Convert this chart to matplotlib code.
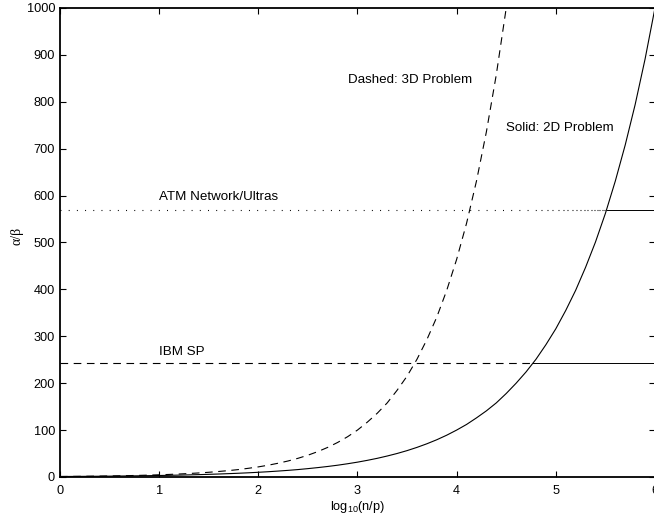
import numpy as np
import matplotlib
matplotlib.use("Agg")
import matplotlib.pyplot as plt
from matplotlib.collections import LineCollection

plt.rcParams["font.family"] = ["Liberation Sans", "DejaVu Sans"]
plt.rcParams["mathtext.fontset"] = "custom"
plt.rcParams["mathtext.rm"] = "Liberation Sans"
plt.rcParams["mathtext.it"] = "Liberation Sans:italic"
plt.rcParams["lines.scale_dashes"] = False

# log10(n/p) samples
x_2d = [round(0.1 * i, 1) for i in range(61)]
alpha_beta_2d = [1.00, 1.12, 1.26, 1.41, 1.58, 1.78, 2.00, 2.24, 2.51, 2.82,
                 3.16, 3.55, 3.98, 4.47, 5.01, 5.62, 6.31, 7.08, 7.94, 8.91,
                 10.0, 11.2, 12.6, 14.1, 15.8, 17.8, 20.0, 22.4, 25.1, 28.2,
                 31.6, 35.5, 39.8, 44.7, 50.1, 56.2, 63.1, 70.8, 79.4, 89.1,
                 100, 112, 126, 141, 158, 178, 200, 224, 251, 282,
                 316, 355, 398, 447, 501, 562, 631, 708, 794, 891, 1000]

x_3d = [round(0.1 * i, 1) for i in range(46)]
alpha_beta_3d = [1.00, 1.17, 1.36, 1.58, 1.85, 2.15, 2.51, 2.93, 3.41, 3.98,
                 4.64, 5.41, 6.31, 7.36, 8.58, 10.0, 11.7, 13.6, 15.8, 18.5,
                 21.5, 25.1, 29.3, 34.1, 39.8, 46.4, 54.1, 63.1, 73.6, 85.8,
                 100, 117, 136, 158, 185, 215, 251, 293, 341, 398,
                 464, 541, 631, 736, 858, 1000]

# machine alpha/beta levels
machines = ["IBM SP", "ATM Network/Ultras"]
machine_levels = [242, 570]

x_ticks = [0, 1, 2, 3, 4, 5, 6]
y_ticks = [0, 100, 200, 300, 400, 500, 600, 700, 800, 900, 1000]

fig = plt.figure(figsize=(6.54, 5.18), dpi=100)
ax = fig.add_axes([0.0917, 0.0792, 0.9098, 0.9054])

lw = 0.8
dash = (0, (5.5, 4.0))
dot = (0, (0.7, 5.2))

ax.plot(x_2d, alpha_beta_2d, color="black", lw=lw)
ax.plot(x_3d, alpha_beta_3d, color="black", lw=lw, linestyle=dash)

# IBM SP: dashed up to the 2D curve, solid afterwards
ibm = machine_levels[0]
x_cross_ibm = float(np.interp(ibm, alpha_beta_2d, x_2d))
ax.plot([0, x_cross_ibm], [ibm, ibm], color="black", lw=lw, linestyle=dash)
ax.plot([x_cross_ibm, 6], [ibm, ibm], color="black", lw=0.7)

# ATM: dotted, dots crowding together toward the 2D curve, then solid
atm = machine_levels[1]
x_cross_atm = float(np.interp(atm, alpha_beta_2d, x_2d))
ax.plot([0, 4.85], [atm, atm], color="black", lw=lw, linestyle=dot)
steps = np.geomspace(0.06, 0.006, 40)
edges = 4.85 + np.concatenate([[0], np.cumsum(steps)])
edges = edges[edges <= x_cross_atm]
edges = np.append(edges, x_cross_atm)
segs = [[(a, atm), (b, atm)] for a, b in zip(edges[:-1], edges[1:])]
lc = LineCollection(segs, colors="black", linewidths=lw, linestyles=[dot])
ax.add_collection(lc)
ax.plot([x_cross_atm, 6], [atm, atm], color="black", lw=0.7)

fs_text = 9.6
ax.text(2.90, 846, "Dashed: 3D Problem", fontsize=fs_text, va="center", ha="left")
ax.text(4.50, 745, "Solid: 2D Problem", fontsize=fs_text, va="center", ha="left")
ax.text(1.0, 597, machines[1], fontsize=fs_text, va="center", ha="left")
ax.text(1.0, 266, machines[0], fontsize=fs_text, va="center", ha="left")

ax.set_xlim(0, 6)
ax.set_ylim(0, 1000)
ax.set_xticks(x_ticks)
ax.set_yticks(y_ticks)
fs_tick = 9.2
ax.tick_params(direction="in", length=4, width=0.8, top=True, right=True,
               labelsize=fs_tick)
ax.tick_params(axis="x", pad=6)
ax.tick_params(axis="y", pad=3.5)
for s in ax.spines.values():
    s.set_linewidth(1.3)

ax.set_xlabel("log$_{10}$(n/p)", fontsize=fs_tick, va="center")
ax.xaxis.set_label_coords(0.5, -0.064)
ax.set_ylabel("α/β", fontsize=fs_tick + 0.8,
              family=["Liberation Serif", "DejaVu Serif"], va="center")
ax.yaxis.set_label_coords(-0.072, 0.514)

fig.savefig("out.png", dpi=100)
